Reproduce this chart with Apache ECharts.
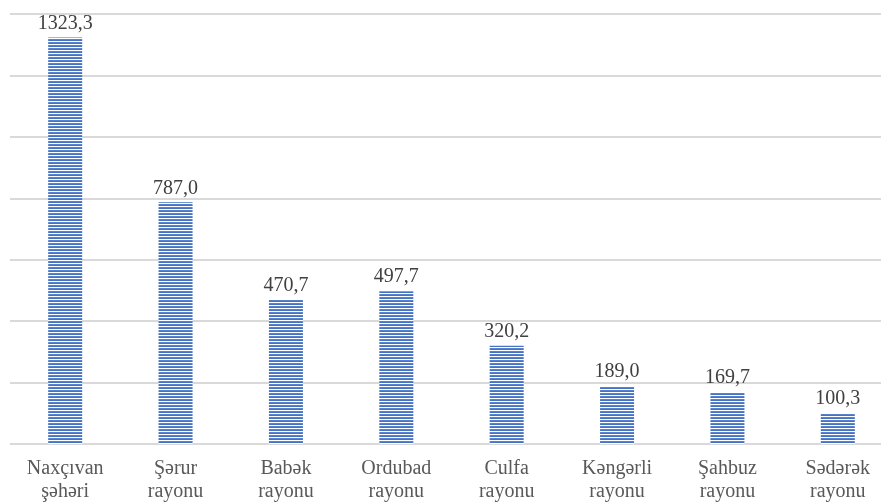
<!DOCTYPE html>
<html>
<head>
<meta charset="utf-8">
<script src="https://cdn.jsdelivr.net/npm/echarts@6/dist/echarts.min.js"></script>
<style>html,body{margin:0;padding:0;background:#fff;overflow:hidden;width:881px;height:504px}#c{width:893px;height:504px}</style>
</head>
<body>
<div id="c"></div>
<script>
var categories = ["Naxçıvan\nşəhəri", "Şərur\nrayonu", "Babək\nrayonu", "Ordubad\nrayonu", "Culfa\nrayonu", "Kəngərli\nrayonu", "Şahbuz\nrayonu", "Sədərək\nrayonu"];
var values = [1323.3, 787.0, 470.7, 497.7, 320.2, 189.0, 169.7, 100.3];
var axisMin = 0, axisMax = 1400, axisInterval = 200;

var pc = document.createElement('canvas');
pc.width = 4; pc.height = 3;
var g = pc.getContext('2d');
g.fillStyle = '#ffffff'; g.fillRect(0,0,4,3);
g.fillStyle = '#5a82cc'; g.fillRect(0,0,4,1);
g.fillStyle = '#4472c4'; g.fillRect(0,1,4,1);

var chart = echarts.init(document.getElementById('c'), null, {renderer:'canvas'});
chart.setOption({
  animation: false,
  backgroundColor: '#ffffff',
  grid: {left: 10, top: 14, right: 0, bottom: 60, containLabel: false},
  xAxis: {
    type: 'category', data: categories,
    axisLine: {show: false}, axisTick: {show: false},
    axisLabel: {color: '#595959', fontFamily: 'Liberation Serif', fontSize: 20, lineHeight: 23, margin: 13, interval: 0}
  },
  yAxis: {
    type: 'value', min: axisMin, max: axisMax, interval: axisInterval,
    axisLabel: {show: false}, axisLine: {show: false}, axisTick: {show: false},
    splitLine: {lineStyle: {color: '#d9d9d9', width: 2}}
  },
  series: [{
    type: 'bar', data: values, barWidth: 34,
    itemStyle: {color: {image: pc, repeat: 'repeat'}},
    label: {show: true, position: 'top', distance: 4, color: '#404040', fontFamily: 'Liberation Serif', fontSize: 20,
      formatter: function(p){ return p.value.toFixed(1).replace('.', ','); }}
  }]
});
</script>
</body>
</html>
